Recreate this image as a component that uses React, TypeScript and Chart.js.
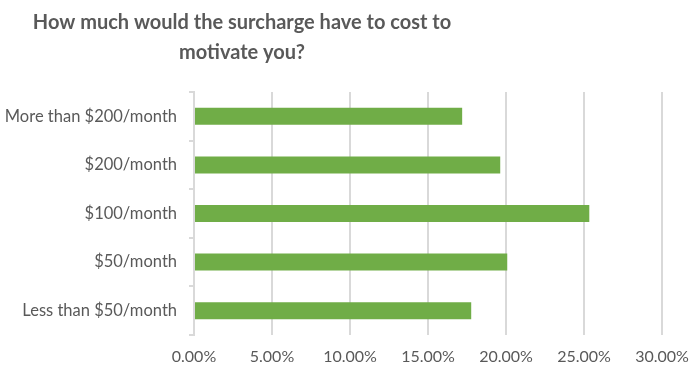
import React, { useEffect, useRef } from "react";
import { Chart, registerables } from "chart.js";

Chart.register(...registerables);

const categories = [
  "More than $200/month",
  "$200/month",
  "$100/month",
  "$50/month",
  "Less than $50/month",
];
const shares = [17.19, 19.63, 25.34, 20.08, 17.77];
const titleLines = ["How much would the surcharge have to cost to", "motivate you?"];
const xMin = 0;
const xMax = 30;
const xStep = 5;

const GRID = "#d9d9d9";
const TEXT = "#595959";
const BAR = "#70ad47";

const titlePlugin = {
  id: "customTitle",
  afterDraw(chart: any) {
    const ctx = chart.ctx;
    ctx.save();
    ctx.fillStyle = TEXT;
    ctx.font = "bold 20px Lato";
    ctx.textAlign = "center";
    ctx.textBaseline = "alphabetic";
    ctx.fillText(titleLines[0], 242, 29);
    ctx.fillText(titleLines[1], 242, 59);
    ctx.restore();
  },
};

export default function App() {
  const ref = useRef<HTMLCanvasElement | null>(null);
  useEffect(() => {
    if (!ref.current) return;
    const chart = new Chart(ref.current, {
      type: "bar",
      data: {
        labels: categories,
        datasets: [
          {
            data: shares,
            backgroundColor: BAR,
            barPercentage: 0.35,
            categoryPercentage: 1,
          },
        ],
      },
      options: {
        indexAxis: "y",
        animation: false,
        responsive: true,
        maintainAspectRatio: false,
        layout: { padding: { top: 92, right: 31, left: 0, bottom: 0 } },
        plugins: {
          legend: { display: false },
          title: { display: false },
          tooltip: { enabled: false },
        },
        scales: {
          x: {
            min: xMin,
            max: xMax,
            afterFit: (s: any) => {
              s.height = 34;
              s.paddingLeft = 0;
              s.paddingRight = 0;
            },
            border: { display: false },
            grid: { color: GRID, lineWidth: 2, drawTicks: false },
            ticks: {
              stepSize: xStep,
              padding: 12,
              color: TEXT,
              font: { family: "Lato", size: 16 },
              callback: (v: any) => Number(v).toFixed(2) + "%",
            },
          },
          y: {
            afterFit: (s: any) => {
              s.width = 194;
            },
            border: { display: true, color: GRID, width: 2 },
            grid: {
              drawOnChartArea: false,
              drawTicks: true,
              tickLength: 5,
              color: GRID,
              lineWidth: 2,
            },
            ticks: {
              padding: 12,
              color: TEXT,
              font: { family: "Lato", size: 16.5 },
            },
          },
        },
      },
      plugins: [titlePlugin],
    });
    return () => chart.destroy();
  }, []);
  return (
    <div style={{ position: "fixed", left: 0, top: 0, width: 693, height: 369, background: "#fff" }}>
      <canvas ref={ref} />
    </div>
  );
}
